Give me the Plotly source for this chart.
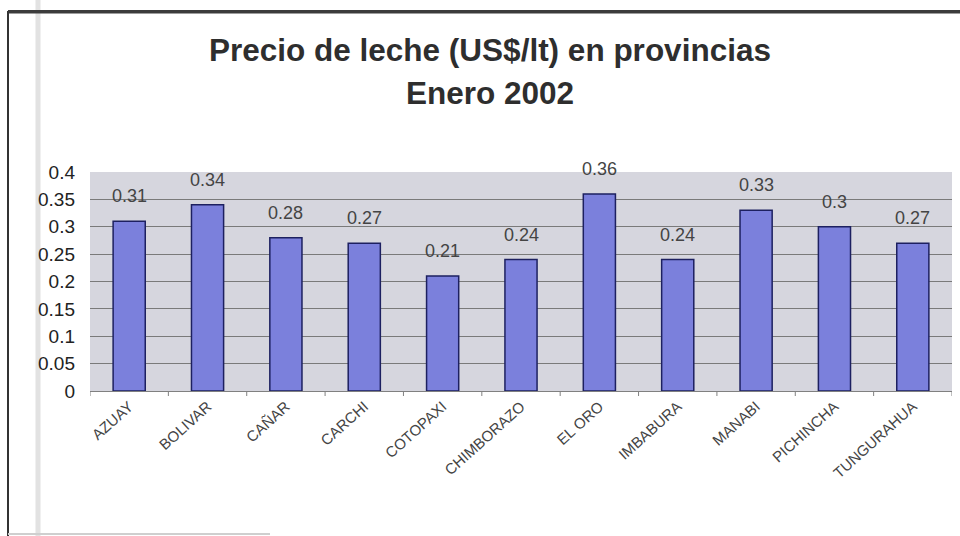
import plotly.graph_objects as go

# Milk price by province, January 2002
provincias = ["AZUAY", "BOLIVAR", "CAÑAR", "CARCHI", "COTOPAXI", "CHIMBORAZO",
              "EL ORO", "IMBABURA", "MANABI", "PICHINCHA", "TUNGURAHUA"]
precios = [0.31, 0.34, 0.28, 0.27, 0.21, 0.24, 0.36, 0.24, 0.33, 0.30, 0.27]
y_ticks = [0, 0.05, 0.1, 0.15, 0.2, 0.25, 0.3, 0.35, 0.4]

W, H = 960, 536
L, R, T, B = 90, 8, 172, 145
pw = W - L - R
ph = H - T - B

def px_x(p):
    return (p - L) / pw

def px_y(p):
    return (H - B - p) / ph

FONT = "Arial, Liberation Sans, sans-serif"

fig = go.Figure(go.Bar(
    x=provincias, y=precios,
    marker=dict(color="#7b80dc", line=dict(color="#1d2060", width=1.5)),
    width=0.41,
))

for cat, val in zip(provincias, precios):
    fig.add_annotation(x=cat, y=val, text=f"{val:g}", showarrow=False,
                       yshift=25, font=dict(family=FONT, size=18, color="#444"))

# Two-line title
for txt, ypx in [("Precio de leche (US$/lt) en provincias", 50), ("Enero 2002", 93)]:
    fig.add_annotation(xref="paper", yref="paper", x=px_x(490), y=px_y(ypx),
                       text=f"<b>{txt}</b>", showarrow=False,
                       xanchor="center", yanchor="middle",
                       font=dict(family=FONT, size=31.5, color="#2e2e2e"))

# Top edge of the chart frame, drawn as a thin filled strip
fig.add_annotation(xref="paper", yref="paper", x=px_x(8), y=px_y(10),
                   xanchor="left", yanchor="top", text=" ", showarrow=False,
                   width=952, height=2, bgcolor="#3c3c3c", borderpad=0,
                   font=dict(size=1))

fig.update_layout(
    width=W, height=H,
    margin=dict(l=L, r=R, t=T, b=B),
    paper_bgcolor="white",
    plot_bgcolor="#d6d6de",
    showlegend=False,
    font=dict(family=FONT, color="#222"),
    xaxis=dict(tickangle=-42, tickfont=dict(family=FONT, size=15, color="#444"),
               showline=True, linecolor="#808080", linewidth=1,
               ticks="", showgrid=False, range=[-0.5, 10.5]),
    yaxis=dict(range=[0, 0.4], tickvals=y_ticks,
               ticktext=[f"{v:g}" for v in y_ticks],
               tickfont=dict(family=FONT, size=19, color="#222"),
               ticklabelstandoff=14,
               showgrid=True, gridcolor="#7a7a7a", gridwidth=1,
               zeroline=False, ticks="", ticklen=0),
    bargap=0.59,
)

# Boundary tick marks between categories
for i in range(12):
    fig.add_shape(type="line", xref="x", yref="paper",
                  x0=i - 0.5, x1=i - 0.5, y0=0, y1=-5 / ph,
                  line=dict(color="#808080", width=1))

# faint vertical stripe near left edge
fig.add_shape(type="line", xref="paper", yref="paper",
              x0=px_x(38), x1=px_x(38), y0=px_y(536), y1=px_y(0),
              line=dict(color="#e2e2e2", width=5), layer="below")

# Chart frame: top edge, left edge, and a short piece of the bottom edge
frame = [((8, 11), (960, 11), "#3c3c3c"),
         ((8, 11), (8, 536), "#333333"),
         ((8, 534), (270, 534), "#cfcfcf")]
for (xa, ya), (xb, yb), col in frame:
    fig.add_shape(type="line", xref="paper", yref="paper",
                  x0=px_x(xa), y0=px_y(ya), x1=px_x(xb), y1=px_y(yb),
                  line=dict(color=col, width=2))

fig.write_html("out.html")
